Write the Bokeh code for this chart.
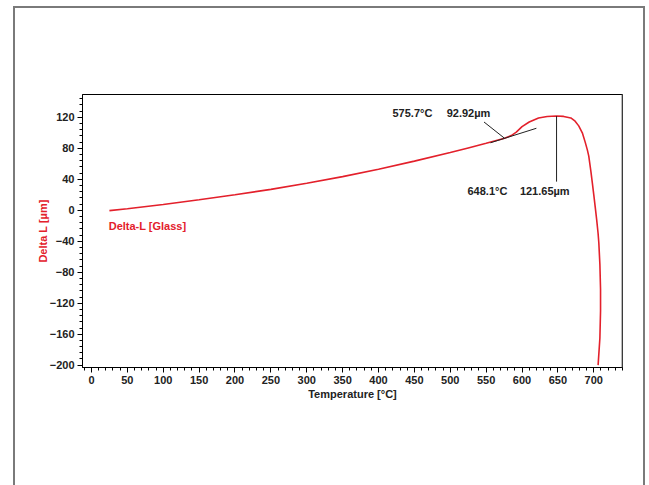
from bokeh.plotting import figure
from bokeh.models import Range1d, SingleIntervalTicker, Span, InlineStyleSheet
from bokeh.core.properties import value
from bokeh.embed import file_html
from bokeh.resources import INLINE

# --- data ---
temp_c = [25, 50, 100, 150, 200, 250, 300, 350, 400, 450, 500, 525, 550, 575.7,
          585, 592, 600, 610, 623, 635, 648.1, 658, 668, 674, 679, 684, 688, 691,
          693, 696, 698, 700, 702, 704, 706, 707, 708.5, 709.4, 709.4, 708.5, 706]
delta_l = [-0.5, 2, 7.5, 13.5, 20, 27, 35, 43.5, 53, 63.5, 74.5, 80.5, 86.5, 92.92,
           96.5, 101, 108, 114, 119.2, 121, 121.65, 121.2, 119.2, 115, 109, 100, 88, 78,
           70, 50, 35, 20, 4, -12, -30, -42, -70, -102, -130, -165, -200]

onset_t, onset_l = 575.7, 92.92
peak_t, peak_l = 648.1, 121.65
onset_temp_label, onset_dl_label = "575.7°C", "92.92µm"
peak_temp_label, peak_dl_label = "648.1°C", "121.65µm"
series_label = "Delta-L [Glass]"

RED = "#e3202b"
INK = "#222222"
FONT = "Liberation Sans"
FS = "11px"

p = figure(width=633, height=469, output_backend="svg", toolbar_location=None,
           x_range=Range1d(-12.5, 740), y_range=Range1d(-203, 149.5),
           min_border_left=82, min_border_right=11, min_border_top=94,
           min_border_bottom=102)

p.xgrid.visible = False
p.ygrid.visible = False
p.outline_line_color = "black"
p.outline_line_width = 1
p.background_fill_color = "white"
p.border_fill_color = "white"

for ax in (p.xaxis[0], p.yaxis[0]):
    ax.major_label_text_font = FONT
    ax.major_label_text_font_style = "bold"
    ax.major_label_text_font_size = FS
    ax.major_label_text_color = INK
    ax.axis_label_text_font = FONT
    ax.axis_label_text_font_style = "bold"
    ax.axis_label_text_font_size = FS
    ax.major_tick_in = 0
    ax.major_tick_out = 5
    ax.minor_tick_in = 0
    ax.minor_tick_out = 3
    ax.axis_line_color = "black"
    ax.major_tick_line_color = "black"
    ax.minor_tick_line_color = "black"
    ax.major_label_standoff = 3

p.xaxis.ticker = SingleIntervalTicker(interval=50, num_minor_ticks=5)
p.yaxis.ticker = SingleIntervalTicker(interval=40, num_minor_ticks=5)
p.xaxis.axis_label = "Temperature [°C]"
p.xaxis.axis_label_text_color = INK
p.xaxis.axis_label_standoff = 1
p.yaxis.axis_label = "Delta L [µm]"
p.yaxis.axis_label_text_color = RED
p.yaxis.axis_label_standoff = -2

# right edge of the frame is grey and heavier in the reference
p.add_layout(Span(location=740, dimension="height", line_color="#777777", line_width=2))

# outer grey frame (viewport-fixed, decorative)
p.stylesheets = [InlineStyleSheet(css=(
    ":host::after { content: ''; position: fixed; left: 13px; top: 6px; right: 4px; "
    "bottom: -20px; border: 2px solid #7a7a7a; box-sizing: border-box; "
    "pointer-events: none; z-index: 10; }"))]

# curve
p.line(temp_c, delta_l, line_color=RED, line_width=1.6)

# onset annotation: tangent segment and leader line
slope = 0.293
p.line([556, 620], [onset_l + slope * (556 - onset_t), onset_l + slope * (620 - onset_t)],
       line_color=INK, line_width=1)
p.line([547, onset_t], [114, onset_l], line_color=INK, line_width=1)

# peak annotation
p.line([peak_t, peak_t], [peak_l, 37], line_color=INK, line_width=1)

txt = dict(text_font=value(FONT), text_font_style="bold", text_font_size=FS,
           text_baseline="middle", text_align="left")
p.text([419.5, 495], [125.5, 125.5], text=[onset_temp_label, onset_dl_label],
       text_color=INK, **txt)
p.text([524, 597], [24.5, 24.5], text=[peak_temp_label, peak_dl_label],
       text_color=INK, **txt)

# series label
p.text([24], [-20], text=[series_label], text_color=RED, **txt)

open("out.html", "w").write(file_html(p, INLINE))
